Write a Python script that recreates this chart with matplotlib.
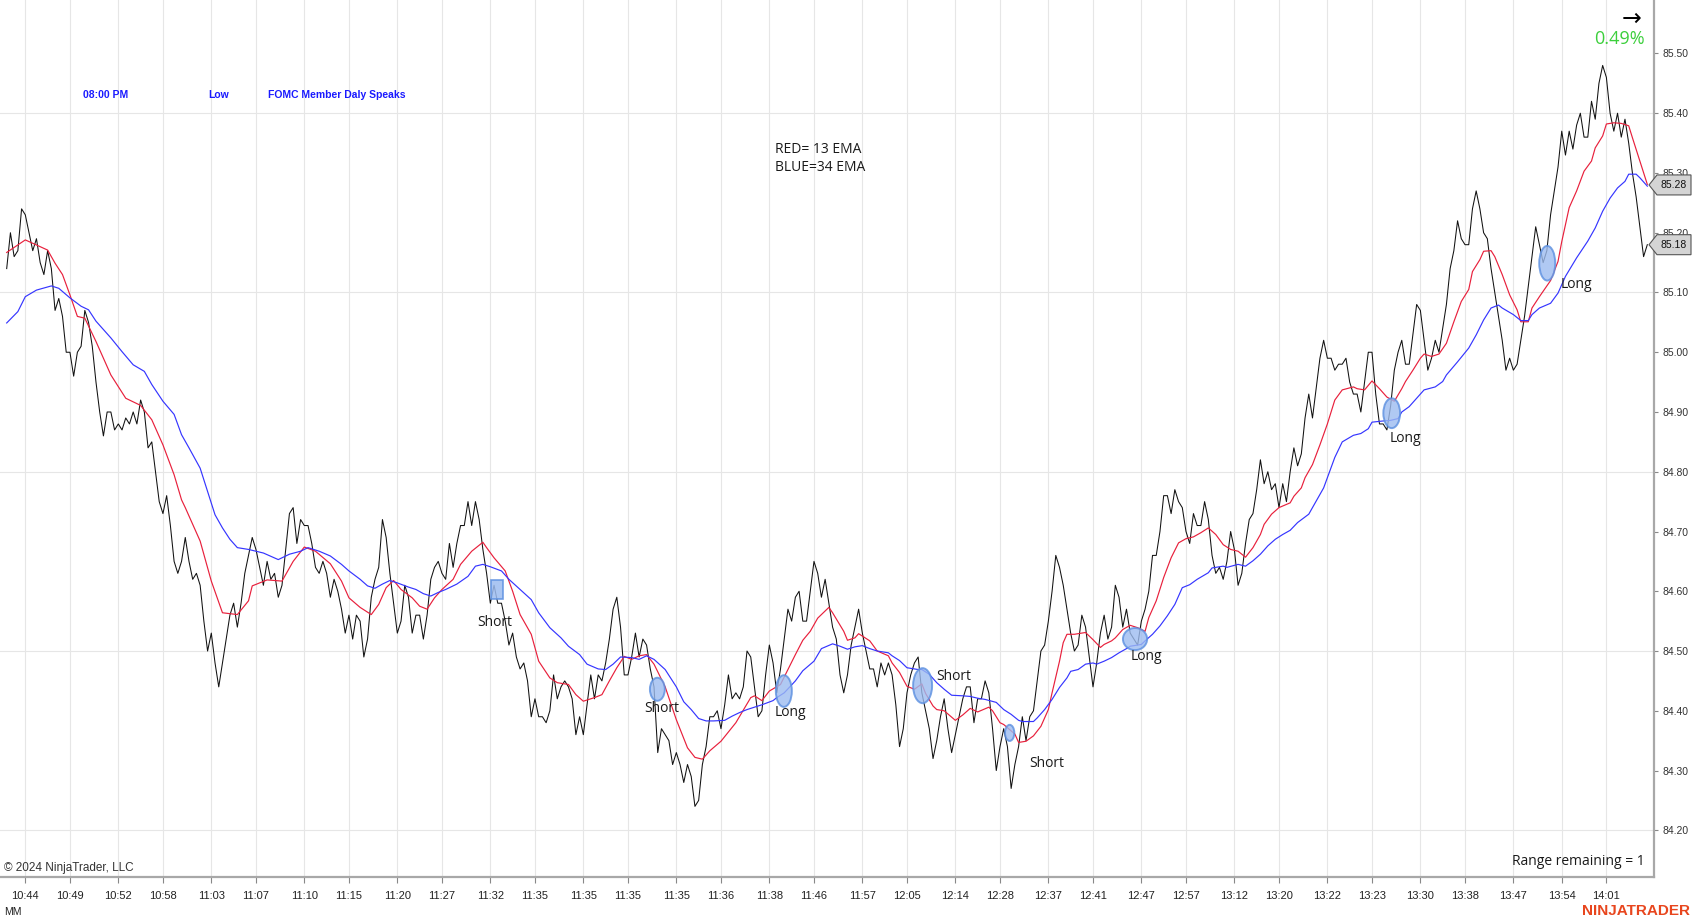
import matplotlib
matplotlib.use("Agg")
import matplotlib.pyplot as plt
from matplotlib.patches import Ellipse, Rectangle, Polygon
from matplotlib.transforms import blended_transform_factory

# ---------------- DATA ----------------
time_labels = ["10:44", "10:49", "10:52", "10:58", "11:03", "11:07", "11:10", "11:15", "11:20",
               "11:27", "11:32", "11:35", "11:35", "11:35", "11:35", "11:36", "11:38", "11:46",
               "11:57", "12:05", "12:14", "12:28", "12:37", "12:41", "12:47", "12:57", "13:12",
               "13:20", "13:22", "13:23", "13:30", "13:38", "13:47", "13:54", "14:01"]
label_bars = [5, 17, 30, 42, 55, 67, 80, 92, 105, 117, 130, 142, 155, 167, 180, 192, 205, 217,
              230, 242, 255, 267, 280, 292, 305, 317, 330, 342, 355, 367, 380, 392, 405, 418, 430]

close_prices = [
    85.14, 85.20, 85.16, 85.17, 85.24, 85.23, 85.20, 85.17, 85.19, 85.15,
    85.13, 85.17, 85.14, 85.07, 85.09, 85.06, 85.00, 85.00, 84.96, 85.00,
    85.01, 85.07, 85.05, 85.01, 84.95, 84.90, 84.86, 84.90, 84.90, 84.87,
    84.88, 84.87, 84.89, 84.88, 84.90, 84.88, 84.92, 84.90, 84.84, 84.85,
    84.80, 84.75, 84.73, 84.76, 84.71, 84.65, 84.63, 84.65, 84.69, 84.65,
    84.62, 84.63, 84.61, 84.55, 84.50, 84.53, 84.48, 84.44, 84.48, 84.52,
    84.56, 84.58, 84.54, 84.58, 84.63, 84.66, 84.69, 84.67, 84.64, 84.61,
    84.65, 84.62, 84.63, 84.59, 84.61, 84.67, 84.73, 84.74, 84.68, 84.72,
    84.71, 84.71, 84.68, 84.64, 84.63, 84.65, 84.63, 84.59, 84.62, 84.60,
    84.57, 84.53, 84.56, 84.52, 84.56, 84.55, 84.49, 84.52, 84.59, 84.62,
    84.64, 84.72, 84.69, 84.63, 84.58, 84.53, 84.55, 84.61, 84.59, 84.53,
    84.56, 84.56, 84.52, 84.56, 84.62, 84.64, 84.65, 84.63, 84.62, 84.68,
    84.64, 84.68, 84.71, 84.71, 84.75, 84.71, 84.75, 84.72, 84.67, 84.63,
    84.58, 84.61, 84.58, 84.58, 84.55, 84.51, 84.53, 84.49, 84.47, 84.48,
    84.45, 84.39, 84.42, 84.39, 84.39, 84.38, 84.40, 84.46, 84.42, 84.44,
    84.45, 84.44, 84.42, 84.36, 84.39, 84.36, 84.41, 84.46, 84.42, 84.46,
    84.45, 84.48, 84.52, 84.57, 84.59, 84.54, 84.46, 84.46, 84.49, 84.53,
    84.49, 84.52, 84.51, 84.47, 84.44, 84.33, 84.37, 84.36, 84.35, 84.31,
    84.33, 84.31, 84.28, 84.31, 84.29, 84.24, 84.25, 84.31, 84.34, 84.39,
    84.39, 84.40, 84.37, 84.41, 84.46, 84.42, 84.43, 84.42, 84.44, 84.50,
    84.49, 84.44, 84.39, 84.40, 84.46, 84.51, 84.48, 84.43, 84.47, 84.52,
    84.57, 84.55, 84.59, 84.60, 84.55, 84.55, 84.60, 84.65, 84.63, 84.59,
    84.62, 84.58, 84.54, 84.52, 84.46, 84.43, 84.46, 84.51, 84.54, 84.57,
    84.53, 84.50, 84.47, 84.47, 84.44, 84.48, 84.46, 84.48, 84.46, 84.41,
    84.34, 84.37, 84.43, 84.46, 84.48, 84.49, 84.43, 84.40, 84.37, 84.32,
    84.35, 84.39, 84.42, 84.37, 84.33, 84.36, 84.39, 84.42, 84.44, 84.44,
    84.38, 84.42, 84.42, 84.45, 84.43, 84.37, 84.30, 84.34, 84.37, 84.34,
    84.27, 84.31, 84.34, 84.39, 84.35, 84.39, 84.40, 84.45, 84.50, 84.51,
    84.55, 84.60, 84.66, 84.64, 84.61, 84.57, 84.53, 84.50, 84.51, 84.56,
    84.54, 84.49, 84.44, 84.48, 84.53, 84.56, 84.52, 84.54, 84.61, 84.59,
    84.54, 84.57, 84.53, 84.52, 84.51, 84.55, 84.57, 84.60, 84.66, 84.66,
    84.70, 84.76, 84.76, 84.73, 84.77, 84.75, 84.74, 84.70, 84.68, 84.73,
    84.71, 84.71, 84.75, 84.72, 84.66, 84.63, 84.64, 84.62, 84.65, 84.70,
    84.67, 84.61, 84.63, 84.68, 84.72, 84.73, 84.77, 84.82, 84.78, 84.80,
    84.77, 84.78, 84.74, 84.78, 84.75, 84.80, 84.84, 84.81, 84.83, 84.89,
    84.93, 84.89, 84.94, 84.99, 85.02, 84.99, 84.99, 84.97, 84.98, 84.98,
    84.99, 84.95, 84.93, 84.93, 84.90, 84.95, 85.00, 85.00, 84.93, 84.88,
    84.88, 84.87, 84.91, 84.97, 85.00, 85.02, 84.98, 84.98, 85.03, 85.08,
    85.07, 85.02, 84.97, 84.99, 85.02, 85.00, 85.04, 85.08, 85.14, 85.17,
    85.22, 85.19, 85.18, 85.18, 85.24, 85.27, 85.24, 85.20, 85.19, 85.14,
    85.10, 85.06, 85.02, 84.97, 84.99, 84.97, 84.98, 85.02, 85.06, 85.11,
    85.16, 85.21, 85.18, 85.15, 85.17, 85.23, 85.27, 85.31, 85.37, 85.33,
    85.37, 85.34, 85.38, 85.40, 85.36, 85.36, 85.42, 85.39, 85.45, 85.48,
    85.46, 85.40, 85.37, 85.40, 85.36, 85.39, 85.35, 85.30, 85.26, 85.21,
    85.16, 85.18,
]

ema13_bars = [0, 5, 11, 13, 15, 17, 19, 21, 24, 28, 32, 36, 39, 42, 45, 47, 48, 52, 55, 58,
              62, 65, 66, 70, 74, 77, 80, 83, 87, 90, 92, 95, 98, 100, 102, 104, 106, 109, 111, 113,
              115, 117, 120, 122, 125, 128, 129, 131, 134, 136, 138, 141, 143, 146, 148, 151, 153, 155, 158, 160,
              162, 164, 166, 168, 170, 172, 174, 177, 180, 183, 185, 187, 189, 192, 196, 200, 201, 203, 205, 208,
              210, 212, 214, 216, 218, 221, 222, 225, 226, 228, 229, 232, 234, 237, 238, 240, 242, 244, 246, 247,
              249, 250, 252, 255, 257, 259, 261, 264, 265, 267, 268, 271, 272, 274, 276, 278, 280, 281, 283, 284,
              285, 287, 288, 290, 292, 294, 295, 297, 298, 300, 302, 304, 306, 307, 309, 311, 313, 315, 317, 319,
              321, 323, 325, 327, 329, 331, 333, 335, 337, 338, 340, 342, 345, 346, 348, 349, 351, 353, 355, 357,
              359, 362, 363, 365, 367, 369, 371, 373, 375, 376, 378, 380, 381, 383, 385, 387, 389, 391, 393, 394,
              396, 397, 399, 400, 402, 404, 406, 407, 409, 410, 412, 415, 417, 418, 420, 422, 424, 426, 427, 429,
              430, 432, 434, 436, 437, 439, 441]
ema13_vals = [85.167, 85.188, 85.171, 85.149, 85.130, 85.096, 85.060, 85.057, 85.018, 84.962,
              84.923, 84.911, 84.887, 84.845, 84.795, 84.753, 84.740, 84.684, 84.617, 84.564,
              84.561, 84.584, 84.609, 84.619, 84.617, 84.650, 84.674, 84.667, 84.646, 84.617,
              84.589, 84.573, 84.561, 84.578, 84.606, 84.618, 84.603, 84.589, 84.575, 84.570,
              84.589, 84.603, 84.620, 84.645, 84.667, 84.682, 84.673, 84.656, 84.634, 84.600,
              84.561, 84.528, 84.483, 84.455, 84.447, 84.444, 84.427, 84.416, 84.422, 84.427,
              84.450, 84.472, 84.491, 84.486, 84.492, 84.494, 84.478, 84.440, 84.385, 84.338,
              84.322, 84.319, 84.333, 84.349, 84.380, 84.422, 84.425, 84.417, 84.433, 84.444,
              84.469, 84.494, 84.518, 84.533, 84.555, 84.573, 84.564, 84.533, 84.518, 84.522,
              84.529, 84.517, 84.500, 84.492, 84.480, 84.464, 84.441, 84.436, 84.445, 84.429,
              84.408, 84.402, 84.400, 84.384, 84.393, 84.404, 84.398, 84.406, 84.400, 84.380,
              84.377, 84.361, 84.347, 84.349, 84.358, 84.374, 84.402, 84.430, 84.483, 84.514,
              84.528, 84.528, 84.529, 84.531, 84.519, 84.506, 84.511, 84.517, 84.522, 84.536,
              84.543, 84.539, 84.533, 84.556, 84.584, 84.623, 84.656, 84.681, 84.688, 84.691,
              84.698, 84.706, 84.695, 84.678, 84.670, 84.667, 84.657, 84.673, 84.695, 84.712,
              84.729, 84.740, 84.748, 84.759, 84.773, 84.790, 84.812, 84.845, 84.880, 84.920,
              84.937, 84.942, 84.939, 84.937, 84.952, 84.939, 84.925, 84.918, 84.939, 84.951,
              84.970, 84.990, 84.997, 84.993, 84.997, 85.015, 85.051, 85.085, 85.105, 85.135,
              85.155, 85.169, 85.170, 85.160, 85.130, 85.096, 85.071, 85.051, 85.051, 85.074,
              85.093, 85.120, 85.152, 85.185, 85.242, 85.270, 85.303, 85.320, 85.342, 85.362,
              85.382, 85.384, 85.383, 85.379, 85.359, 85.320, 85.281]

ema34_bars = [0, 3, 5, 8, 12, 14, 17, 20, 22, 24, 28, 31, 34, 37, 39, 42, 45, 47, 49, 52,
              54, 56, 58, 60, 62, 65, 69, 73, 76, 79, 81, 84, 87, 90, 92, 95, 97, 99, 101, 103,
              105, 108, 110, 112, 114, 116, 118, 121, 124, 126, 128, 130, 133, 135, 138, 141, 143, 146, 149, 151,
              154, 156, 159, 161, 163, 165, 168, 170, 172, 174, 177, 180, 182, 184, 186, 188, 190, 193, 195, 197,
              199, 202, 203, 206, 207, 209, 212, 214, 217, 219, 222, 224, 226, 228, 230, 232, 234, 237, 238, 240,
              242, 245, 246, 248, 250, 252, 254, 257, 259, 261, 263, 266, 268, 270, 272, 273, 276, 277, 279, 281,
              283, 285, 286, 288, 290, 292, 293, 295, 297, 299, 301, 302, 305, 306, 308, 310, 312, 314, 316, 318,
              320, 323, 324, 327, 328, 331, 333, 335, 337, 339, 341, 343, 345, 347, 350, 352, 354, 357, 359, 362,
              364, 366, 367, 370, 372, 374, 375, 377, 379, 381, 384, 386, 387, 390, 393, 395, 397, 399, 401, 402,
              405, 407, 409, 410, 412, 415, 417, 419, 422, 425, 427, 429, 431, 433, 435, 436, 438, 439, 441]
ema34_vals = [85.049, 85.068, 85.093, 85.104, 85.111, 85.107, 85.091, 85.077, 85.071, 85.052,
              85.024, 85.001, 84.979, 84.968, 84.946, 84.918, 84.896, 84.862, 84.840, 84.806,
              84.767, 84.728, 84.706, 84.687, 84.673, 84.670, 84.664, 84.653, 84.662, 84.667,
              84.673, 84.667, 84.659, 84.645, 84.634, 84.620, 84.609, 84.605, 84.612, 84.618,
              84.614, 84.607, 84.603, 84.596, 84.592, 84.598, 84.603, 84.612, 84.625, 84.642,
              84.645, 84.641, 84.634, 84.620, 84.603, 84.586, 84.564, 84.539, 84.522, 84.508,
              84.494, 84.478, 84.470, 84.469, 84.478, 84.490, 84.489, 84.486, 84.492, 84.486,
              84.469, 84.440, 84.415, 84.402, 84.387, 84.383, 84.383, 84.384, 84.391, 84.397,
              84.402, 84.408, 84.410, 84.417, 84.422, 84.430, 84.450, 84.467, 84.483, 84.504,
              84.512, 84.508, 84.503, 84.507, 84.509, 84.504, 84.500, 84.497, 84.492, 84.484,
              84.472, 84.469, 84.469, 84.461, 84.447, 84.436, 84.426, 84.425, 84.424, 84.421,
              84.419, 84.414, 84.402, 84.394, 84.384, 84.382, 84.382, 84.388, 84.402, 84.419,
              84.439, 84.455, 84.466, 84.469, 84.478, 84.480, 84.478, 84.483, 84.489, 84.497,
              84.504, 84.508, 84.511, 84.517, 84.528, 84.542, 84.559, 84.578, 84.606, 84.611,
              84.620, 84.631, 84.639, 84.642, 84.640, 84.645, 84.642, 84.651, 84.662, 84.676,
              84.687, 84.695, 84.702, 84.715, 84.729, 84.751, 84.773, 84.824, 84.850, 84.861,
              84.864, 84.872, 84.883, 84.885, 84.886, 84.889, 84.900, 84.909, 84.923, 84.937,
              84.942, 84.951, 84.962, 84.984, 85.007, 85.029, 85.054, 85.074, 85.079, 85.074,
              85.063, 85.053, 85.053, 85.063, 85.074, 85.082, 85.099, 85.127, 85.158, 85.186,
              85.208, 85.236, 85.258, 85.275, 85.286, 85.298, 85.298, 85.292, 85.278]

signal_names = ["Short", "Short", "Long", "Short", "Short", "Long", "Long", "Long"]
signal_bars = [131.8, 174.9, 208.9, 246.2, 269.6, 303.3, 372.3, 414.1]
signal_prices = [84.603, 84.436, 84.433, 84.442, 84.363, 84.520, 84.898, 85.149]
signal_label_bars = [131.3, 176.0, 210.6, 254.6, 279.7, 306.3, 375.9, 421.9]
signal_label_prices = [84.547, 84.403, 84.397, 84.457, 84.311, 84.490, 84.855, 85.114]

price_ticks = [84.20, 84.30, 84.40, 84.50, 84.60, 84.70, 84.80, 84.90, 85.00, 85.10, 85.20,
               85.30, 85.40, 85.50]
grid_levels = [84.20, 84.50, 84.80, 85.10, 85.40]
marker_values = [85.28, 85.18]

news_items = ["08:00 PM", "Low", "FOMC Member Daly Speaks"]

# ---------------- STYLE ----------------
W, H = 1692, 922
ax_left_px, ax_right_px, ax_bottom_px = 0, 1654, 877
sig_w = [3.2, 4.0, 4.3, 5.1, 2.5, 6.5, 4.5, 4.3]
sig_h = [0.032, 0.0385, 0.053, 0.0586, 0.027, 0.037, 0.050, 0.058]
sig_is_rect = [True, False, False, False, False, False, False, False]
narrow = ['Liberation Sans Narrow', 'Liberation Sans', 'DejaVu Sans']

plt.rcParams['font.family'] = ['Open Sans', 'DejaVu Sans']

fig = plt.figure(figsize=(W / 100, H / 100), dpi=100)
fig.patch.set_facecolor('white')
ax = fig.add_axes([ax_left_px / W, (H - ax_bottom_px) / H, (ax_right_px - ax_left_px) / W, ax_bottom_px / H])
ax.set_facecolor('white')

ax.set_xlim(-1.8, 442.8)
ax.set_ylim(84.1218, 85.5895)

grid_col = '#e6e6e6'
for b in label_bars:
    ax.axvline(b, color=grid_col, lw=0.8, zorder=0)
for g in grid_levels:
    ax.axhline(g, color=grid_col, lw=0.8, zorder=0)

ax.plot(range(len(close_prices)), close_prices, color='#111111', lw=0.75, zorder=3)
ax.plot(ema13_bars, ema13_vals, color='#e8203c', lw=0.85, zorder=4)
ax.plot(ema34_bars, ema34_vals, color='#3535ff', lw=0.85, zorder=4)

for i, name in enumerate(signal_names):
    if sig_is_rect[i]:
        p = Rectangle((signal_bars[i] - sig_w[i] / 2, signal_prices[i] - sig_h[i] / 2), sig_w[i], sig_h[i],
                      facecolor='#9dbcf0', edgecolor='#5b8fe0', lw=1.2, alpha=0.85, zorder=5)
    else:
        p = Ellipse((signal_bars[i], signal_prices[i]), sig_w[i], sig_h[i],
                    facecolor='#9dbcf0', edgecolor='#5b8fe0', lw=1.4, alpha=0.8, zorder=5)
    ax.add_patch(p)
    ax.text(signal_label_bars[i], signal_label_prices[i], name, fontsize=10, color='#1a1a1a',
            ha='center', va='center', zorder=6)

ax.text(206.5, 85.340, "RED= 13 EMA", fontsize=10, color='#1a1a1a', ha='left', va='center')
ax.text(206.5, 85.310, "BLUE=34 EMA", fontsize=10, color='#1a1a1a', ha='left', va='center')

news_x = [83, 208, 268]
for txt, xp in zip(news_items, news_x):
    ax.text(xp / ax_right_px, 1 - 95 / ax_bottom_px, txt, transform=ax.transAxes, fontsize=7.5,
            fontweight='bold', color='#1a1aff', family=['Liberation Sans', 'DejaVu Sans'],
            ha='left', va='center')

ax.text(1645 / ax_right_px, 1 - 39 / ax_bottom_px, "0.49%", transform=ax.transAxes, fontsize=13,
        color='#3ccf3c', ha='right', va='center')
ax.text(1632 / ax_right_px, 1 - 19 / ax_bottom_px, "\u2192", transform=ax.transAxes, fontsize=17,
        color='black', ha='center', va='center', family=['DejaVu Sans'])

ax.text(4 / ax_right_px, 1 - 868 / ax_bottom_px, "\u00a9 2024 NinjaTrader, LLC", transform=ax.transAxes,
        fontsize=8.5, color='#333333', ha='left', va='center', family=narrow)
ax.text(1645 / ax_right_px, 1 - 861 / ax_bottom_px, "Range remaining = 1", transform=ax.transAxes,
        fontsize=10, color='#1a1a1a', ha='right', va='center')

# axes styling
for s in ['top', 'left']:
    ax.spines[s].set_visible(False)
for s in ['bottom', 'right']:
    ax.spines[s].set_color('#a8a8a8')
    ax.spines[s].set_linewidth(1.6)

ax.yaxis.tick_right()
ax.set_yticks(price_ticks)
ax.set_yticklabels([f"{v:.2f}" for v in price_ticks])
ax.tick_params(axis='y', length=3, width=0.8, color='#888888', pad=3, labelsize=7.5, labelcolor='#333333')
ax.set_xticks(label_bars)
ax.set_xticklabels(time_labels)
ax.tick_params(axis='x', length=4, width=0.8, color='#888888', pad=6, labelsize=8, labelcolor='#222222')
for lab in ax.get_xticklabels() + ax.get_yticklabels():
    lab.set_family(narrow)

# price markers on the right axis
trans = blended_transform_factory(fig.transFigure, ax.transData)
hh = 10 / 597.5
for v in marker_values:
    pts = [(1649 / W, v), (1657 / W, v + hh), (1691 / W, v + hh), (1691 / W, v - hh), (1657 / W, v - hh)]
    poly = Polygon(pts, closed=True, transform=trans, facecolor='#d4d4d4', edgecolor='#555555', lw=0.8,
                   clip_on=False, zorder=10)
    fig.add_artist(poly)
    t = fig.text(1674 / W, v, f"{v:.2f}", transform=trans, fontsize=7.5, color='#111111', ha='center',
                 va='center', zorder=11, family=narrow)

fig.text(4 / W, 1 - 912 / H, "MM", fontsize=7.5, color='#222222', ha='left', va='center', family=narrow)
fig.text(1690 / W, 1 - 911 / H, "NINJATRADER", fontsize=11, color='#e8461e', fontweight='bold',
         ha='right', va='center', family=narrow)

fig.savefig("out.png", dpi=100, facecolor='white')
